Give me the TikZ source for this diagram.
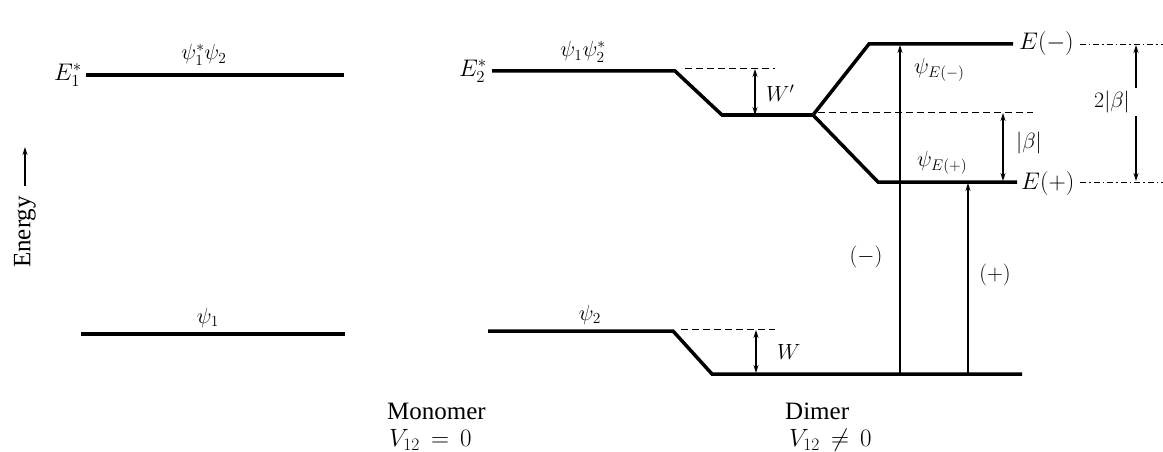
\RequirePackage{fix-cm}
\documentclass[tikz,border=0pt]{standalone}
\usepackage{fontspec}
\setmainfont{Liberation Serif}
\usetikzlibrary{arrows.meta}
\begin{document}
\begin{tikzpicture}[x=1pt,y=-1pt,
  level/.style={line width=3.5pt},
  thinline/.style={line width=1.1pt},
  guide/.style={line width=0.9pt,dash pattern=on 7pt off 4pt},
  guidedot/.style={line width=0.8pt,dash pattern=on 6pt off 3pt on 1.5pt off 3pt},
  tip/.style={-{Stealth[length=8pt,width=5pt]}},
  dtip/.style={{Stealth[length=8pt,width=5pt]}-{Stealth[length=8pt,width=5pt]}},
  lab/.style={font=\fontsize{24}{28}\selectfont, inner sep=1pt},
  slab/.style={font=\fontsize{22}{26}\selectfont, inner sep=1pt},
  txt/.style={font=\fontsize{25}{29}\selectfont, inner sep=0pt, anchor=west}]
\useasboundingbox (0,0) rectangle (1163,452);

% Monomer levels
\coordinate (m1a) at (86,75); \coordinate (m1b) at (344,75);
\coordinate (m0a) at (81,334); \coordinate (m0b) at (345,334);
\draw[level] (m1a) -- (m1b);
\draw[level] (m0a) -- (m0b);
\node[lab, anchor=east] (E1s) at (83,75) {$E_1^*$};
\node[slab] (p12) at (204,55) {$\psi_1^*\psi_2$};
\node[slab] (p1) at (208,318) {$\psi_1$};

% Energy axis
\node[txt, rotate=90, anchor=west] (en) at (25,268) {Energy};
\coordinate (ent) at (25,147);
\coordinate (enb) at (25,186);
\draw[thinline, tip] (enb) -- (ent);

% Dimer upper
\coordinate (d1a) at (492,71); \coordinate (d1b) at (675,71);
\coordinate (d1c) at (722,115); \coordinate (br) at (813,115);
\coordinate (um) at (869,44); \coordinate (umr) at (1013,44);
\coordinate (lp) at (878,182); \coordinate (lpr) at (1017,182);
\draw[level, line join=miter] (d1a) -- (d1b) -- (d1c) -- (br) -- (um) -- (umr);
\draw[level, line join=miter] (br) -- (lp) -- (lpr);
\node[lab, anchor=east] (E2s) at (488,71) {$E_2^*$};
\node[slab] (p21) at (583,52) {$\psi_1\psi_2^*$};
\coordinate (g1a) at (685,68); \coordinate (g1b) at (775,68);
\draw[guide] (g1a) -- (g1b);
\coordinate (wpt) at (755,69); \coordinate (wpb) at (755,115);
\draw[thinline, dtip] (wpt) -- (wpb);
\node[slab, anchor=west] (Wp) at (765,93) {$W'$};
\coordinate (g2a) at (818,112); \coordinate (g2b) at (1033,112);
\draw[guide] (g2a) -- (g2b);
\coordinate (bt) at (1003,113); \coordinate (bb) at (1003,181);
\draw[thinline, dtip] (bt) -- (bb);
\node[slab, anchor=west] (bl) at (1015,143) {$|\beta|$};
\node[lab, anchor=west] (Em) at (1018,44) {$E(-)$};
\node[lab, anchor=west] (Ep) at (1020,183) {$E(+)$};
\coordinate (gm) at (1163,44); \coordinate (gp) at (1163,182);
\draw[guidedot] ([xshift=5pt]Em.east) -- (gm);
\draw[guidedot] ([xshift=5pt]Ep.east |- gp) -- (gp);
\node[slab, fill=white, inner sep=3pt] (b2) at (1112,102) {$2|\beta|$};
\coordinate (b2t) at (1136,45); \coordinate (b2b) at (1136,181);
\draw[thinline, tip] (b2.north -| b2t) -- (b2t);
\draw[thinline, tip] (b2.south -| b2b) -- (b2b);
\node[slab, anchor=west] (pm) at (913,70) {$\psi_{E(-)}$};
\node[slab, anchor=west] (pp) at (916,163) {$\psi_{E(+)}$};

% Dimer lower
\coordinate (d0a) at (488,331); \coordinate (d0b) at (673,331);
\coordinate (d0c) at (712,374); \coordinate (d0d) at (1022,374);
\draw[level, line join=miter] (d0a) -- (d0b) -- (d0c) -- (d0d);
\node[slab] (p2) at (590,315) {$\psi_2$};
\coordinate (g3a) at (681,329); \coordinate (g3b) at (775,329);
\draw[guide] (g3a) -- (g3b);
\coordinate (wt) at (756,330); \coordinate (wb) at (756,373);
\draw[thinline, dtip] (wt) -- (wb);
\node[slab, anchor=west] (Wl) at (776,352) {$W$};

% transitions
\coordinate (am0) at (900,373); \coordinate (am1) at (900,45);
\coordinate (ap0) at (968,373); \coordinate (ap1) at (968,183);
\draw[thinline, tip] (am0) -- (am1);
\draw[thinline, tip] (ap0) -- (ap1);
\node[slab] (ml) at (866,257) {$(-)$};
\node[slab] (pl) at (995,275) {$(+)$};

% captions
\node[txt] (mono) at (387,411) {Monomer};
\node[txt] (mv) at (389,440) {$V_{12}\,=\,0$};
\node[txt] (dim) at (785,411) {Dimer};
\node[txt] (dv) at (789,440) {$V_{12}\,\neq\,0$};
\end{tikzpicture}
\end{document}
